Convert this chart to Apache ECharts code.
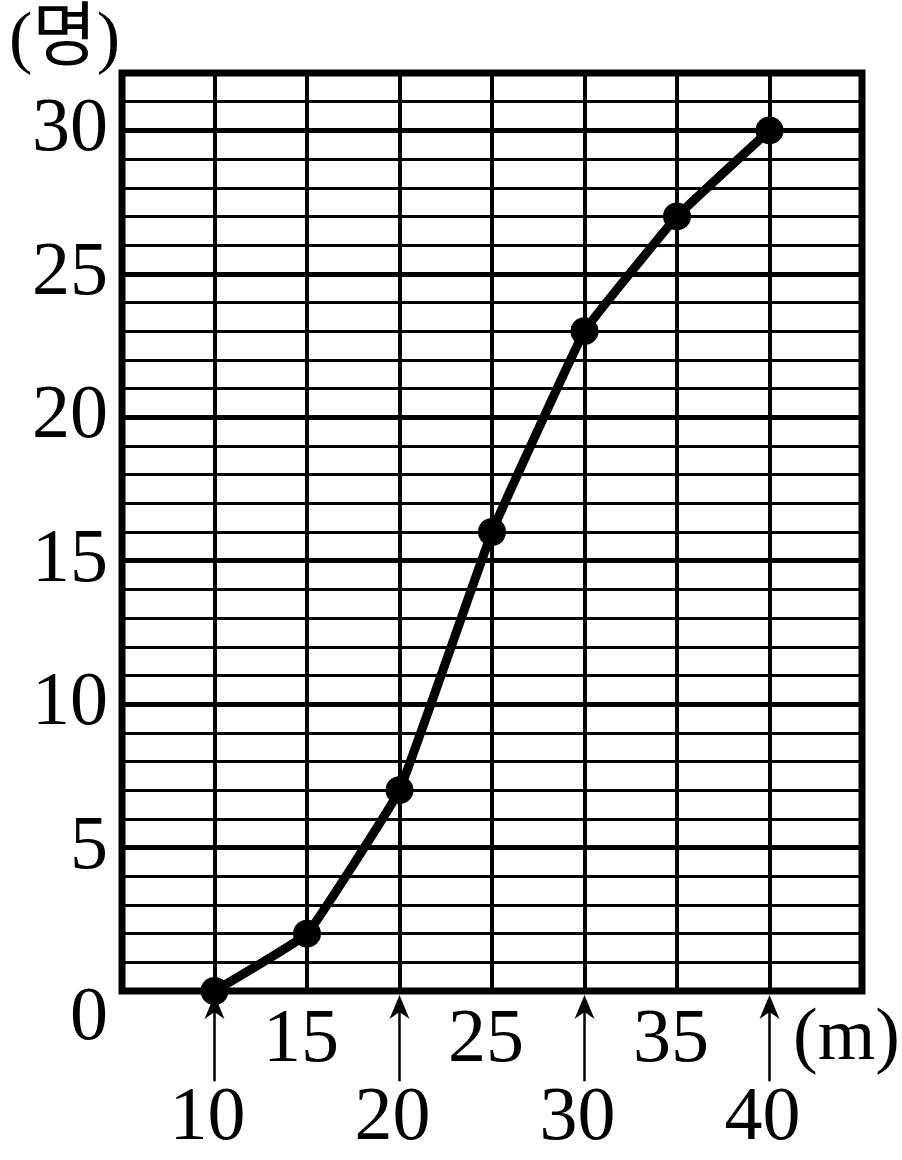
<!DOCTYPE html>
<html>
<head>
<meta charset="utf-8">
<script src="https://cdn.jsdelivr.net/npm/echarts@6/dist/echarts.min.js"></script>
<style>
html,body{margin:0;padding:0;background:#fff;}
#chart{width:902px;height:1160px;}
</style>
</head>
<body>
<div id="chart"></div>
<script>
// Data
const distances = [10, 15, 20, 25, 30, 35, 40];          // m
const cumulative = [0, 2, 7, 16, 23, 27, 30];            // 명 (cumulative count)
const lowerTickLabels = [10, 20, 30, 40];                 // labels drawn lower with arrows
const upperTickLabels = [15, 25, 35];
const yTickLabels = [0, 5, 10, 15, 20, 25, 30];
const yUnit = '(명)';
const xUnit = '(m)';

const SERIF = '"Liberation Serif", "DejaVu Serif", serif';
const chart = echarts.init(document.getElementById('chart'), null, {renderer: 'canvas'});

const option = {
  backgroundColor: '#fff',
  animation: false,
  title: [
    {text: yUnit, left: 4, top: 2,
     textStyle: {fontFamily: SERIF + ', "Noto Sans CJK KR"', fontSize: 70, fontWeight: 'normal', color: '#000'}},
    {text: xUnit, left: 788, top: 998,
     textStyle: {fontFamily: SERIF, fontSize: 74, fontWeight: 'normal', color: '#000'}}
  ],
  grid: {left: 122, right: 40, top: 73, bottom: 169, show: true, borderColor: '#000', borderWidth: 7, backgroundColor: 'transparent'},
  xAxis: {
    type: 'value', min: 5, max: 45, interval: 5,
    axisLine: {show: false}, axisTick: {show: false},
    splitLine: {show: true, lineStyle: {color: '#000', width: 4}},
    axisLabel: {
      margin: 12, color: '#000', fontFamily: SERIF, fontSize: 76,
      formatter: function (v) {
        if (upperTickLabels.indexOf(v) >= 0) return '{up|' + v + '}';
        if (lowerTickLabels.indexOf(v) >= 0) return '{lo|' + v + '}';
        return '';
      },
      rich: {
        up: {fontFamily: SERIF, fontSize: 76, color: '#000', padding: [0, 12, 0, 0]},
        lo: {fontFamily: SERIF, fontSize: 76, color: '#000', padding: [78, 14, 0, 0]}
      }
    }
  },
  yAxis: [
    {
      type: 'value', min: 0, max: 32, interval: 1,
      axisLine: {show: false}, axisTick: {show: false}, axisLabel: {show: false},
      splitLine: {show: true, lineStyle: {color: '#000', width: 3}}
    },
    {
      type: 'value', min: 0, max: 32, interval: 5, position: 'left',
      axisLine: {show: false}, axisTick: {show: false},
      splitLine: {show: true, lineStyle: {color: '#000', width: 5}},
      axisLabel: {
        margin: 14, color: '#000', fontFamily: SERIF, fontSize: 76,
        formatter: function (v) {
          if (v === 0) return '{z|0}';
          return yTickLabels.indexOf(v) >= 0 ? String(v) : '';
        },
        rich: {z: {fontFamily: SERIF, fontSize: 76, color: '#000', padding: [56, 0, 0, 0]}}
      }
    }
  ],
  series: [
    {
      type: 'line', yAxisIndex: 0, smooth: 0.08,
      data: distances.map((d, i) => [d, cumulative[i]]),
      symbol: 'circle', symbolSize: 28,
      lineStyle: {color: '#000', width: 9},
      itemStyle: {color: '#000'},
      z: 5
    },
    {
      type: 'custom', yAxisIndex: 0, clip: false, z: 4,
      data: lowerTickLabels.map(v => [v, 0]),
      renderItem: function (params, api) {
        const x = api.value(0);
        const top = api.coord([x, 0]);
        const bot = api.coord([x, -3.15]);
        const tipY = top[1] + 4;
        const cx = top[0];
        return {
          type: 'group',
          children: [
            {type: 'line', shape: {x1: cx, y1: bot[1], x2: cx, y2: tipY + 16},
             style: {stroke: '#000', lineWidth: 2.5}},
            {type: 'polygon', shape: {points: [[cx, tipY], [cx - 10, tipY + 24], [cx, tipY + 17], [cx + 10, tipY + 24]]},
             style: {fill: '#000'}}
          ]
        };
      }
    }
  ]
};
chart.setOption(option);
</script>
</body>
</html>
